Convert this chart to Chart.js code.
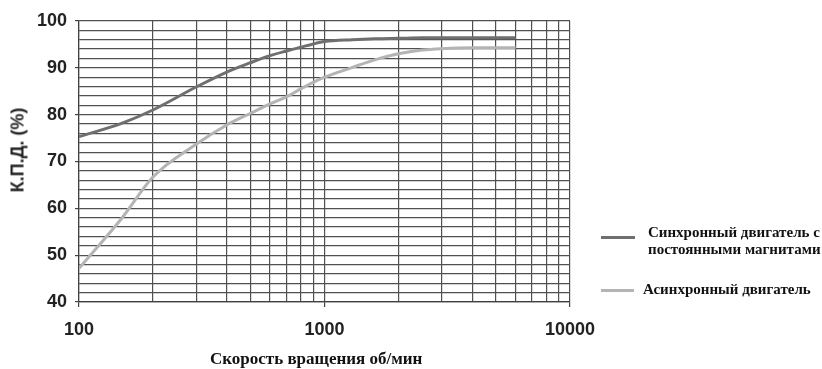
<!DOCTYPE html>
<html>
<head>
<meta charset="utf-8">
<script src="https://cdn.jsdelivr.net/npm/chart.js@4/dist/chart.umd.min.js"></script>
<style>
  html, body { margin: 0; padding: 0; background: #fff; }
  #wrap { position: relative; width: 822px; height: 369px; }
  #chart { position: absolute; left: 0; top: 0; }
  .serif { font-family: "Liberation Serif", "Times New Roman", serif; font-weight: bold; color: #111; position: absolute; white-space: nowrap; }
  .swatch { position: absolute; height: 3px; }
  #ytitle { position: absolute; font-family: "Liberation Sans", Arial, sans-serif; font-weight: bold; font-size: 18px; color: #222;
            left: 18px; top: 150px; transform: translate(-50%, -50%) rotate(-90deg); white-space: nowrap; }
</style>
</head>
<body>
<div id="wrap">
  <canvas id="chart" width="822" height="369"></canvas>
  <div id="ytitle">К.П.Д. (%)</div>
  <div class="serif" id="xtitle" style="left:210px; top:349px; font-size:17px; line-height:20px;">Скорость вращения об/мин</div>
  <div class="swatch" style="left:601px; top:236px; width:34px; background:#6f6f6f;"></div>
  <div class="serif" style="left:648px; top:224px; font-size:15px; line-height:17px;">Синхронный двигатель с<br>постоянными магнитами</div>
  <div class="swatch" style="left:601px; top:289px; width:33px; background:#b4b4b4;"></div>
  <div class="serif" style="left:643px; top:281px; font-size:15px; line-height:17px;">Асинхронный двигатель</div>
</div>
<script>
// Rotational speed, rpm
const speeds = [100, 150, 200, 300, 400, 500, 600, 700, 800, 900, 1000, 1300, 1600, 2000, 2500, 3000, 4000, 5000, 6000];
// Efficiency, % — permanent-magnet synchronous motor
const syncEff = [75.3, 78.2, 81.0, 85.9, 89.1, 91.1, 92.6, 93.6, 94.4, 95.1, 95.6, 96.0, 96.2, 96.3, 96.4, 96.4, 96.4, 96.4, 96.4];
// Efficiency, % — induction (asynchronous) motor
const asyncEff = [47.2, 58.0, 66.7, 73.7, 77.8, 80.3, 82.3, 83.8, 85.5, 86.9, 88.0, 90.1, 91.7, 93.0, 93.8, 94.1, 94.3, 94.3, 94.3];

// Logarithmic grid: 1..9 times each decade
const xGridValues = [100, 200, 300, 400, 500, 600, 700, 800, 900,
                     1000, 2000, 3000, 4000, 5000, 6000, 7000, 8000, 9000, 10000];
const xLabelValues = [100, 1000, 10000];
const yLabelValues = [40, 50, 60, 70, 80, 90, 100];

const toPoints = (ys) => speeds.map((s, i) => ({ x: s, y: ys[i] }));

const gridColor = '#505050';
const labelFont = { family: '"Liberation Sans", Arial, sans-serif', size: 18, weight: 'bold' };

new Chart(document.getElementById('chart'), {
  type: 'line',
  data: {
    datasets: [
      {
        label: 'Синхронный двигатель с постоянными магнитами',
        data: toPoints(syncEff),
        borderColor: '#6f6f6f',
        borderWidth: 3,
        pointRadius: 0,
        cubicInterpolationMode: 'monotone',
        fill: false
      },
      {
        label: 'Асинхронный двигатель',
        data: toPoints(asyncEff),
        borderColor: '#b4b4b4',
        borderWidth: 3,
        pointRadius: 0,
        cubicInterpolationMode: 'monotone',
        fill: false
      }
    ]
  },
  options: {
    responsive: false,
    animation: false,
    layout: { padding: { left: 0, top: 21, right: 252, bottom: 0 } },
    plugins: { legend: { display: false }, tooltip: { enabled: false } },
    scales: {
      x: {
        type: 'logarithmic',
        min: 100,
        max: 10000,
        afterBuildTicks: (scale) => { scale.ticks = xGridValues.map(v => ({ value: v })); },
        afterFit: (scale) => { scale.height = 67; },
        ticks: {
          autoSkip: false,
          maxRotation: 0,
          padding: 12,
          color: '#222',
          font: labelFont,
          callback: (v) => xLabelValues.includes(v) ? String(v) : ''
        },
        grid: {
          color: gridColor,
          lineWidth: 1.2,
          tickLength: 5,
          tickColor: (ctx) => xLabelValues.includes(ctx.tick && ctx.tick.value) ? '#444' : 'rgba(0,0,0,0)'
        },
        border: { color: '#404040', width: 1.2 }
      },
      y: {
        min: 40,
        max: 100,
        afterFit: (scale) => { scale.width = 79; },
        ticks: {
          stepSize: 2,
          autoSkip: false,
          padding: 8,
          color: '#222',
          font: labelFont,
          callback: (v) => yLabelValues.includes(v) ? String(v) : ''
        },
        grid: {
          color: gridColor,
          lineWidth: 1.2,
          tickLength: 4,
          tickColor: (ctx) => yLabelValues.includes(ctx.tick && ctx.tick.value) ? '#444' : 'rgba(0,0,0,0)'
        },
        border: { color: '#404040', width: 1.2 }
      }
    }
  }
});
</script>
</body>
</html>
